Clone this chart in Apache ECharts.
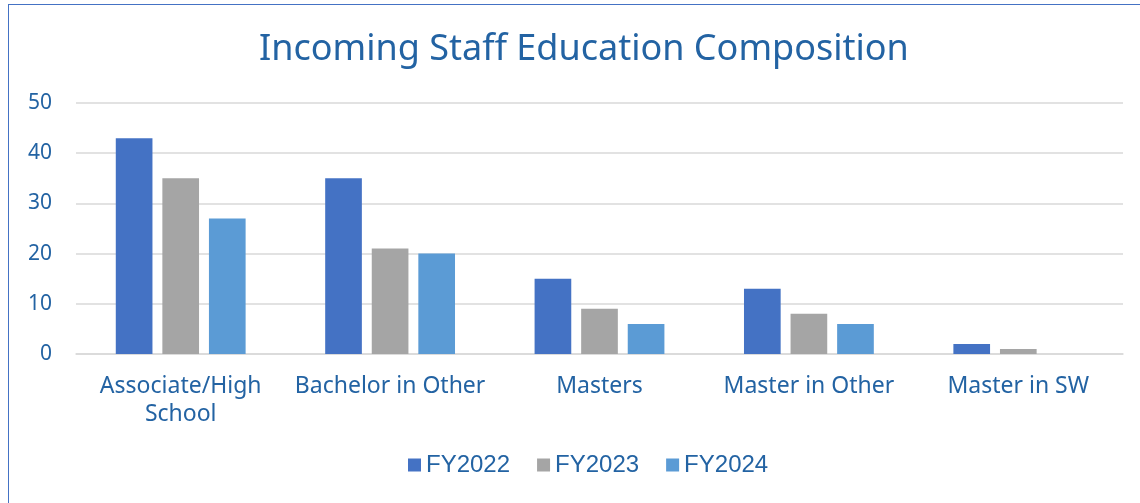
<!DOCTYPE html>
<html>
<head>
<meta charset="utf-8">
<script src="https://cdn.jsdelivr.net/npm/echarts@6/dist/echarts.min.js"></script>
<style>
  html, body { margin: 0; padding: 0; background: #fff; }
  #frame { position: absolute; left: 8px; top: 4px; width: 1140px; height: 510px; border: 1.5px solid #4472C4; box-sizing: border-box; }
  #chart { position: absolute; left: 0; top: 0; width: 1140px; height: 503px; }
</style>
</head>
<body>
<div id="frame"></div>
<div id="chart"></div>
<script>
// categories and values
var categories = ['Associate/High\nSchool', 'Bachelor in Other', 'Masters', 'Master in Other', 'Master in SW'];
var fy2022 = [43, 35, 15, 13, 2];
var fy2023 = [35, 21, 9, 8, 1];
var fy2024 = [27, 20, 6, 6, 0];
var seriesNames = ['FY2022', 'FY2023', 'FY2024'];
var colors = ['#4472C4', '#A5A5A5', '#5B9BD5'];

var textBlue = '#2363A3';
var font = '"Noto Sans", sans-serif';

var chart = echarts.init(document.getElementById('chart'));
var option = {
  backgroundColor: 'transparent',
  animation: false,
  color: colors,
  title: {
    text: 'Incoming Staff Education Composition',
    left: 254,
    top: 27,
    textStyle: { color: textBlue, fontSize: 36, fontWeight: 'normal', fontFamily: font }
  },
  legend: {
    bottom: 21,
    left: 403,
    itemWidth: 13,
    itemHeight: 13,
    itemGap: 27,
    icon: 'rect',
    textStyle: { color: textBlue, fontSize: 24, fontFamily: '"Liberation Sans", Arial, sans-serif' },
    data: seriesNames
  },
  grid: { left: 76, right: 17, top: 103, bottom: 149 },
  xAxis: {
    type: 'category',
    data: categories,
    axisTick: { show: false },
    axisLine: { lineStyle: { color: '#D9D9D9', width: 1.5 } },
    axisLabel: { color: textBlue, fontSize: 23, fontFamily: font, margin: 18, lineHeight: 28, interval: 0 }
  },
  yAxis: {
    type: 'value',
    min: 0,
    max: 50,
    interval: 10,
    axisLabel: { color: textBlue, fontSize: 21, fontFamily: font, margin: 24 },
    splitLine: { lineStyle: { color: '#D9D9D9', width: 1.5 } }
  },
  series: [
    { name: seriesNames[0], type: 'bar', data: fy2022, barGap: '27%', barCategoryGap: '38%' },
    { name: seriesNames[1], type: 'bar', data: fy2023, barGap: '27%', barCategoryGap: '38%' },
    { name: seriesNames[2], type: 'bar', data: fy2024, barGap: '27%', barCategoryGap: '38%' }
  ]
};
chart.setOption(option);
</script>
</body>
</html>
